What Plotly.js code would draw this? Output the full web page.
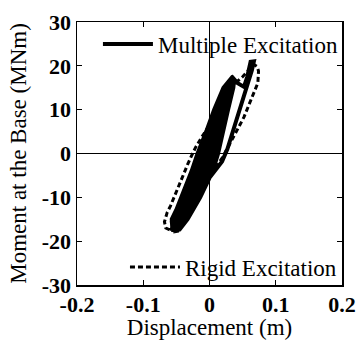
<!DOCTYPE html>
<html>
<head>
<meta charset="utf-8">
<script src="https://cdn.plot.ly/plotly-3.0.1.min.js"></script>
<style>html,body{margin:0;padding:0;background:#fff;}#chart{width:358px;height:340px;}</style>
</head>
<body>
<div id="chart"></div>
<script>
// Multiple Excitation (solid) hysteresis, displacement (m) and base moment (MNm)
const multX = [
  // loop 1
  -0.053,-0.037,-0.021,-0.013,-0.001,0.010,0.023,0.028,
  0.034,0.025,0.016,0.008,0.000,-0.018,-0.037,-0.048,
  // loop 2
  -0.050,-0.033,-0.017,-0.009,0.003,0.013,0.026,0.030,
  0.031,0.022,0.013,0.004,-0.004,-0.022,-0.040,-0.052,
  // loop 5
  -0.043,-0.025,-0.007,0.001,0.010,0.0196,0.027,
  0.015,0.005,-0.006,-0.014,-0.030,-0.047,-0.054,
  // loop 6
  -0.038,-0.019,-0.001,0.007,0.015,0.024,0.033,0.035,
  0.024,0.011,0.000,-0.012,-0.020,-0.036,-0.052,-0.055,
  // loop 3 (band edges)
  -0.056,-0.057,-0.041,-0.026,-0.018,-0.005,0.007,0.021,0.033,
  0.037,0.036,0.028,0.020,0.013,0.005,-0.014,-0.033,-0.046,
  // loop 4 (centre)
  -0.046,-0.029,-0.012,-0.004,0.006,0.016,0.024,
  0.019,0.009,-0.001,-0.009,-0.026,-0.044,-0.050,
  // outer loop
  -0.055,-0.057,-0.042,-0.027,-0.018,-0.004,0.008,0.022,0.035,0.042,0.052,0.057,0.062,0.067,
  0.064,0.058,0.051,0.044,0.037,0.032,0.027,0.019,0.010,0.002,-0.010,-0.024,-0.036,-0.048,-0.055
];
const multY = [
  -15,-10,-4,0,5,10,15,16,
  15,10,5,0,-4,-10,-15,-17,
  -15,-10,-4,0,5,10,15,16.5,
  15,10,5,0,-4,-10,-15,-17.3,
  -15,-10,-4,0,5,10,14,
  10,5,0,-4,-10,-15,-17,
  -15,-10,-4,0,5,10,15,16.5,
  15,10,5,0,-4,-10,-15,-17.5,
  -17.5,-15,-10,-4,0,5,10,15,17.2,
  16.5,15,10,5,0,-4,-10,-15,-17.5,
  -15,-10,-4,0,5,10,13,
  10,5,0,-4,-10,-15,-16.5,
  -17.8,-15.5,-10,-4,0,5,10,15,17.3,16.1,15.2,17.5,20.9,21.0,
  19.0,16.2,12.8,9.6,6.4,3.8,1.0,-1.8,-3.6,-5.2,-7.5,-11,-14.5,-17.6,-17.8
];
// Rigid Excitation (dashed)
const rigidX = [
  -0.060,-0.066,-0.068,-0.064,-0.059,-0.049,-0.041,-0.033,-0.027,-0.021,-0.011,-0.002,
  0.008,0.020,0.035,0.050,0.062,0.067,0.072,0.074,0.073,0.067,0.060,0.052,0.044,0.035,
  0.027,0.020,0.012,0.004,-0.006,-0.017,-0.029,-0.041,-0.051,-0.060
];
const rigidY = [
  -17.4,-17.0,-15.6,-13.5,-12.0,-8.2,-5.2,-2.5,-0.5,1.4,3.9,6.0,
  9.0,12.5,15.5,17.5,19.5,20.3,19.8,18.8,16.1,13.8,11.3,8.3,6.0,3.5,
  1.4,-0.8,-2.6,-4.2,-6.0,-8.5,-11.5,-14.3,-16.6,-17.4
];
const xTickVals = [-0.2,-0.1,0,0.1,0.2];
const xTickText = ["-0.2","-0.1","0","0.1","0.2"];
const yTickVals = [-30,-20,-10,0,10,20,30];
const yTickText = ["-30","-20","-10","0","10","20","30"];

const serif = "Liberation Serif, Times New Roman, serif";

const traces = [
  {x: multX, y: multY, mode: 'lines', name: 'Multiple Excitation',
   line: {color: '#000', width: 4}, legend: 'legend'},
  {x: rigidX, y: rigidY, mode: 'lines', name: 'Rigid Excitation',
   line: {color: '#000', width: 3, dash: '5px,3px'}, legend: 'legend2'}
];

const axisCommon = {
  showgrid: false, zeroline: true, zerolinecolor: '#000', zerolinewidth: 1,
  showline: true, linecolor: '#000', linewidth: 1.5, mirror: 'ticks',
  ticks: 'inside', ticklen: 5, tickcolor: '#000', tickwidth: 1,
  tickfont: {family: serif, size: 22, color: '#000', weight: 'bold'},
  tickmode: 'array'
};

const layout = {
  width: 358, height: 340,
  margin: {l: 77, r: 16, t: 22, b: 55},
  paper_bgcolor: '#fff', plot_bgcolor: '#fff',
  font: {family: serif, color: '#000'},
  xaxis: Object.assign({}, axisCommon, {
    range: [-0.2, 0.2], tickvals: xTickVals, ticktext: xTickText, ticklabelstandoff: -1,
    title: {text: 'Displacement (m)', font: {family: serif, size: 23, color: '#000'}, standoff: 2}
  }),
  yaxis: Object.assign({}, axisCommon, {
    range: [-30, 30], tickvals: yTickVals, ticktext: yTickText,
    title: {text: 'Moment at the Base (MNm)', font: {family: serif, size: 23, color: '#000'}, standoff: 8}
  }),
  showlegend: true,
  legend: {x: 0.079, y: 0.916, xanchor: 'left', yanchor: 'middle',
    bgcolor: 'rgba(0,0,0,0)', borderwidth: 0, itemwidth: 50,
    font: {family: serif, size: 23, color: '#000'}, tracegroupgap: 0},
  legend2: {x: 0.181, y: 0.068, xanchor: 'left', yanchor: 'middle',
    bgcolor: 'rgba(0,0,0,0)', borderwidth: 0, itemwidth: 50,
    font: {family: serif, size: 23, color: '#000'}, tracegroupgap: 0}
};

Plotly.newPlot('chart', traces, layout, {staticPlot: true, displayModeBar: false});
</script>
</body>
</html>
